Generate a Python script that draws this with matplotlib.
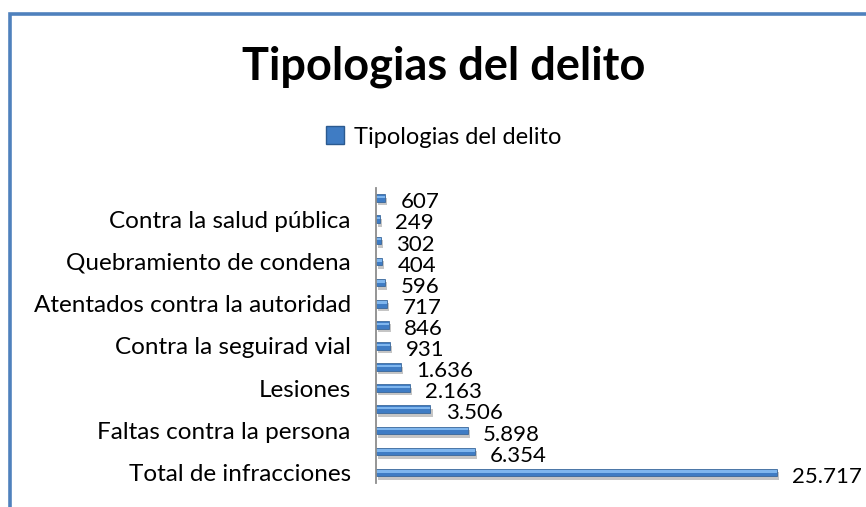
import matplotlib
matplotlib.use("Agg")
import matplotlib.pyplot as plt
import matplotlib.patheffects as pe
from matplotlib.patches import Rectangle

# data, bottom bar first (Excel draws the first category at the bottom)
categorias = ["Total de infracciones", "", "Faltas contra la persona", "",
              "Lesiones", "", "Contra la seguirad vial", "",
              "Atentados contra la autoridad", "", "Quebramiento de condena", "",
              "Contra la salud pública", ""]
valores = [25717, 6354, 5898, 3506, 2163, 1636, 931, 846, 717, 596, 404, 302, 249, 607]
titulo = "Tipologias del delito"
serie = "Tipologias del delito"

plt.rcParams['font.family'] = ['Lato', 'DejaVu Sans']

fig = plt.figure(figsize=(8.66, 5.07), dpi=100)

# blue frame of the chart area (only left and top edges visible)
fig.patches.append(Rectangle((0.011, -0.1), 1.2, 1.072, transform=fig.transFigure,
                             fill=False, edgecolor="#4F81BD", linewidth=2.6))

ax = fig.add_axes([0.434, 0.047, 0.540, 0.583])

pos = list(range(len(valores)))
sombra = [pe.SimplePatchShadow(offset=(1.5, -2.5), shadow_rgbFace="#7f7f7f", alpha=0.45), pe.Normal()]
ax.barh(pos, valores, height=0.36, color="#3f7cc4", edgecolor="#2b5a90",
        linewidth=0.5, path_effects=sombra)
# lighter stripe on top of each bar to mimic the gradient
ax.barh([p + 0.05 for p in pos], valores, height=0.11, color="#7fb6ee", linewidth=0)

for p, v in zip(pos, valores):
    ax.annotate(f"{v:,}".replace(",", "."), xy=(v, p), xytext=(11, -3),
                textcoords="offset points", va="center", ha="left",
                fontsize=16, annotation_clip=False)

ax.set_xlim(0, 30000)
ax.set_ylim(-0.5, len(valores) - 0.5)
ax.set_yticks(pos)
ax.set_yticklabels(categorias, fontsize=17.5)
ax.tick_params(axis="y", length=0, pad=18)
ax.set_xticks([])
for s in ["top", "right", "bottom"]:
    ax.spines[s].set_visible(False)
ax.spines["left"].set_color("#8c8c8c")
ax.spines["left"].set_linewidth(1.3)

fig.text(0.512, 0.868, titulo, ha="center", va="center", fontsize=32.5, fontweight="bold")

handle = Rectangle((0, 0), 1, 1, facecolor="#3f7cc4", edgecolor="#2b5a90")
fig.legend([handle], [serie], loc="center", bbox_to_anchor=(0.512, 0.73), frameon=False,
           fontsize=17, handlelength=0.8, handleheight=0.8, handletextpad=0.4)

fig.savefig("out.png", dpi=100)
